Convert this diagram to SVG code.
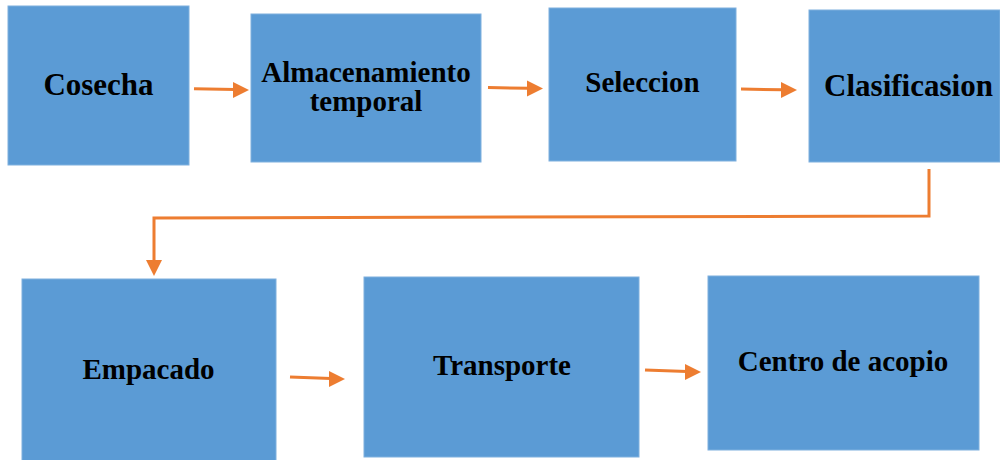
<svg xmlns="http://www.w3.org/2000/svg" width="1000" height="460" viewBox="0 0 1000 460">
<style>
.box{fill:#5B9BD5;stroke:#7FB0DE;stroke-width:1}
.lbl{font-family:"Liberation Serif","Times New Roman",serif;font-weight:bold;font-size:29px;fill:#000;text-anchor:middle}
.con{fill:none;stroke:#ED7D31;stroke-width:3}
.head{fill:#ED7D31}
</style>
<rect width="1000" height="460" fill="#fff"/>
<g id="n1"><rect class="box" x="8" y="6" width="181" height="159"/><text class="lbl" x="98.5" y="95" style="font-size:31px">Cosecha</text></g>
<g id="n2"><rect class="box" x="251" y="14" width="230" height="148"/><text class="lbl" x="366" y="82">Almacenamiento</text><text class="lbl" x="366" y="111">temporal</text></g>
<g id="n3"><rect class="box" x="549" y="8" width="187" height="153"/><text class="lbl" x="642.5" y="92">Seleccion</text></g>
<g id="n4"><rect class="box" x="809" y="10" width="191" height="152"/><text class="lbl" x="908.5" y="96" style="font-size:31px">Clasificasion</text></g>
<g id="n5"><rect class="box" x="22" y="279" width="254" height="182"/><text class="lbl" x="148.5" y="379">Empacado</text></g>
<g id="n6"><rect class="box" x="364" y="277" width="275" height="180"/><text class="lbl" x="502" y="375">Transporte</text></g>
<g id="n7"><rect class="box" x="708" y="276" width="271" height="174"/><text class="lbl" x="843" y="371">Centro de acopio</text></g>
<g id="connectors">
<line class="con" x1="194" y1="88.7" x2="235" y2="89.6"/>
<path class="head" d="M233,82 L249,90 L233,98 z"/>
<line class="con" x1="488" y1="87.5" x2="529" y2="88.3"/>
<path class="head" d="M527,80.5 L543,88.5 L527,96.5 z"/>
<line class="con" x1="741" y1="89" x2="783" y2="89.8"/>
<path class="head" d="M781,82 L797,90 L781,98 z"/>
<polyline class="con" points="929,169 929,216 154,218 154,262"/>
<path class="head" d="M146,260 L154,276 L162,260 z"/>
<line class="con" x1="290" y1="377" x2="331" y2="378.5"/>
<path class="head" d="M329,371 L345,379 L329,387 z"/>
<line class="con" x1="645" y1="370" x2="687" y2="371.5"/>
<path class="head" d="M685,364 L701,372 L685,380 z"/>
</g>
</svg>
